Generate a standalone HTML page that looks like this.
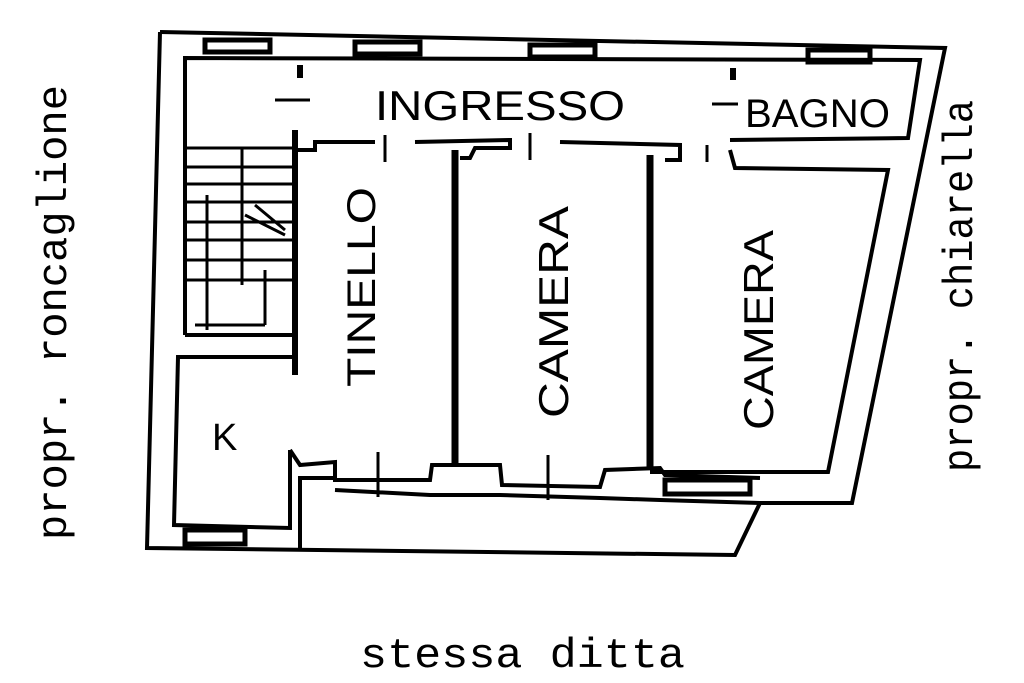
<!DOCTYPE html>
<html><head><meta charset="utf-8"><style>
html,body{margin:0;padding:0;background:#fff;}
svg{display:block}
text{font-family:"Liberation Sans",sans-serif;fill:#000}
.m{font-family:"Liberation Mono",monospace}
</style></head><body>
<svg width="1024" height="683" viewBox="0 0 1024 683" xmlns="http://www.w3.org/2000/svg">
<g fill="none" stroke="#000" stroke-width="4" stroke-linejoin="miter">
<polyline points="160,32 945,48 852,503 760,503"/>
<polyline points="160,32 147,548 735,555 760,503"/>
<polyline points="185,335 185,58 920,60 908,138 730,140"/>
<g stroke-width="5">
<rect x="205" y="40" width="65" height="12"/>
<rect x="355" y="42" width="65" height="12"/>
<rect x="530" y="45" width="65" height="12"/>
<rect x="808" y="50" width="62" height="12"/>
<rect x="185" y="530" width="60" height="14"/>
<rect x="665" y="480" width="85" height="14"/>
</g>
<polyline points="730,150 735,168 888,170 828,472 650,472"/>
<polyline points="295,130 295,150 315,150 315,142 375,142"/>
<polyline points="415,142 510,140 510,148 475,148 470,158 460,158"/>
<polyline points="560,142 680,145 680,160 665,160"/>
<line x1="455" y1="150" x2="455" y2="465" stroke-width="7"/>
<line x1="650" y1="155" x2="650" y2="470" stroke-width="7"/>
<line x1="295" y1="130" x2="295" y2="375" stroke-width="6"/>
<g stroke-width="3">
<line x1="185" y1="148" x2="295" y2="148"/>
<line x1="185" y1="167" x2="295" y2="167"/>
<line x1="185" y1="184" x2="295" y2="184"/>
<line x1="185" y1="202" x2="295" y2="202"/>
<line x1="185" y1="222" x2="295" y2="222"/>
<line x1="185" y1="240" x2="295" y2="240"/>
<line x1="185" y1="260" x2="295" y2="260"/>
<line x1="185" y1="280" x2="295" y2="280"/>
<line x1="242" y1="148" x2="242" y2="285"/>
<line x1="207" y1="195" x2="207" y2="330"/>
<line x1="265" y1="270" x2="265" y2="325"/>
<line x1="195" y1="325" x2="265" y2="325"/>
<line x1="245" y1="215" x2="285" y2="235"/>
<line x1="255" y1="205" x2="285" y2="230"/>
</g>
<line x1="185" y1="335" x2="295" y2="335"/>
<polyline points="295,357 178,357 174,525 290,528 290,450"/>
<polyline points="290,450 300,465 335,462 335,480 430,480 432,465 500,465 502,485 600,487 605,470 660,468 665,475 760,478"/>
<polyline points="300,550 300,478 335,478"/>
<polyline points="335,490 430,495 500,495 600,498 660,500 760,503"/>
<g stroke-width="3">
<line x1="385" y1="135" x2="385" y2="162"/>
<line x1="530" y1="133" x2="530" y2="160"/>
<line x1="707" y1="145" x2="707" y2="162"/>
<line x1="378" y1="452" x2="378" y2="497"/>
<line x1="548" y1="455" x2="548" y2="500"/>
<line x1="275" y1="100" x2="310" y2="100"/>
<line x1="712" y1="104" x2="738" y2="104"/>
<line x1="300" y1="65" x2="300" y2="78" stroke-width="6"/>
<line x1="733" y1="68" x2="733" y2="80" stroke-width="6"/>
</g>
</g>
<text x="375" y="120" font-size="42" textLength="250" lengthAdjust="spacingAndGlyphs">INGRESSO</text>
<text x="745" y="127" font-size="40" textLength="145" lengthAdjust="spacingAndGlyphs">BAGNO</text>
<text transform="translate(375,387) rotate(-90)" font-size="40" textLength="200" lengthAdjust="spacingAndGlyphs">TINELLO</text>
<text transform="translate(568,418) rotate(-90)" font-size="42" textLength="212" lengthAdjust="spacingAndGlyphs">CAMERA</text>
<text transform="translate(773,430) rotate(-90)" font-size="42" textLength="200" lengthAdjust="spacingAndGlyphs">CAMERA</text>
<text x="212" y="450" font-size="38">K</text>
<text class="m" transform="translate(66,540) rotate(-90)" font-size="42" textLength="455" lengthAdjust="spacingAndGlyphs">propr. roncaglione</text>
<text class="m" transform="translate(972,472) rotate(-90)" font-size="42" textLength="372" lengthAdjust="spacingAndGlyphs">propr. chiarella</text>
<text class="m" x="360" y="667" font-size="42" textLength="325" lengthAdjust="spacingAndGlyphs">stessa ditta</text>
</svg>
</body></html>
